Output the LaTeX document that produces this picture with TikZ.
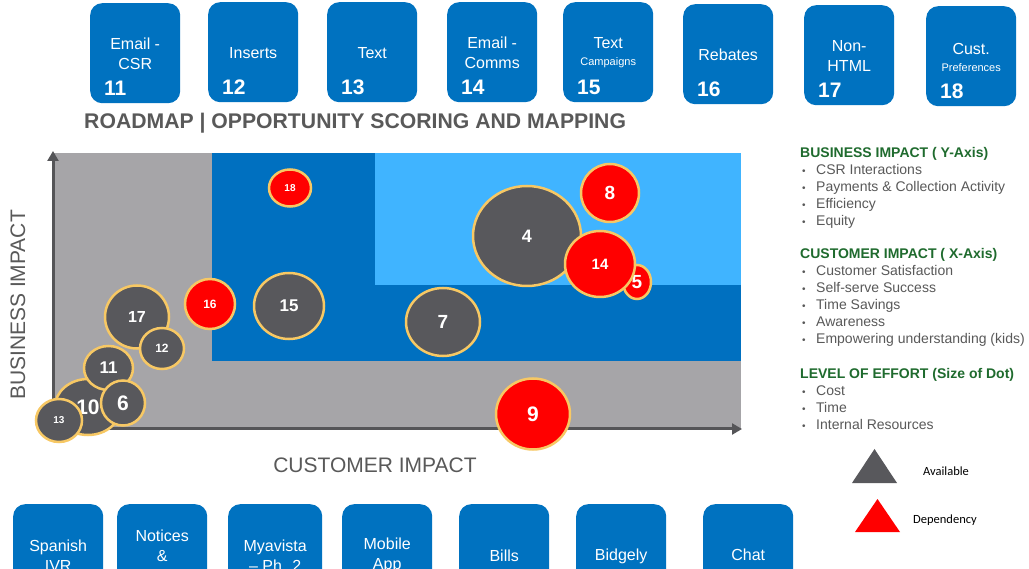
\documentclass[tikz,border=0pt]{standalone}
\usepackage{fontspec}
\setmainfont{Liberation Sans}
\newfontfamily\calibfont{Carlito}
\usetikzlibrary{arrows.meta,calc,shapes.geometric}
\definecolor{boxblue}{RGB}{0,114,192}
\definecolor{darkblue}{RGB}{0,112,192}
\definecolor{lightblue}{RGB}{64,180,255}
\definecolor{chartgray}{RGB}{166,165,168}
\definecolor{bubgray}{RGB}{88,88,92}
\definecolor{goldline}{RGB}{247,200,100}
\definecolor{txtgray}{RGB}{89,89,89}
\definecolor{axisgray}{RGB}{85,85,88}
\definecolor{hdgreen}{RGB}{31,107,46}
\newcommand\fsz[1]{\fontsize{#1}{#1}\selectfont}
\newcommand\topbox[5]{%
  \node[tbox] (#1) at (#2,#3) {};
  \node[tlab] (#1t) at ($(#1.north)+(0,51)$) {#4};
  \node[tnum] (#1n) at ($(#1.north west)+(14,85)$) {#5};}
\newcommand\botbox[5]{%
  \node[bbox,minimum width=#4] (#1) at (#2,504) {};
  \node[tlab] (#1t) at ($(#1.north)+(0,#3)$) {#5};}
\begin{document}
\begin{tikzpicture}[x=1pt,y=-1pt,
  tbox/.style={fill=boxblue, rounded corners=12pt, minimum width=90pt, minimum height=100pt, inner sep=0pt, anchor=north west},
  bbox/.style={fill=boxblue, rounded corners=12pt, minimum height=130pt, inner sep=0pt, anchor=north west},
  tlab/.style={text=white, align=center, inner sep=0pt, font=\fontsize{16}{20}\selectfont},
  tnum/.style={text=white, anchor=west, inner sep=0pt, font=\bfseries\fsz{21}},
  bub/.style={ellipse, draw=goldline, line width=2.5pt, inner sep=0pt, text=white},
  gb/.style={bub, fill=bubgray},
  rb/.style={bub, fill=red},
  axis/.style={draw=axisgray, line width=3pt, {Triangle[length=10pt,width=11pt]}-{Triangle[length=10pt,width=11pt]}},
  hd/.style={text=hdgreen, anchor=west, inner sep=0pt, text height=10pt, text depth=3pt, font=\bfseries\fsz{14}},
  item/.style={text=txtgray, anchor=west, inner sep=0pt, text height=10pt, text depth=3pt, font=\fsz{14}},
  ]
\useasboundingbox (0,0) rectangle (1029,569);
\clip (0,0) rectangle (1029,569);
\fill[white] (0,0) rectangle (1029,569);

% top boxes
\topbox{t11}{90}{3}{Email -\\CSR}{11}
\topbox{t12}{208}{2}{Inserts}{12}
\topbox{t13}{327}{2}{Text}{13}
\topbox{t14}{447}{2}{Email -\\Comms}{14}
\topbox{t15}{563}{2}{Text\\[-3pt]{\fsz{11}Campaigns}}{15}
\topbox{t16}{683}{4}{Rebates}{16}
\topbox{t17}{804}{5}{Non-\\HTML}{17}
\topbox{t18}{926}{6}{Cust.\\[-3pt]{\fsz{11}Preferences}}{18}

% title
\node[text=txtgray, anchor=west, inner sep=0pt, font=\bfseries\fsz{21.2}] (title) at (84,123) {ROADMAP | OPPORTUNITY SCORING AND MAPPING};

% chart background
\fill[chartgray] (52,153) rectangle (741,429);
\fill[darkblue] (212,153) rectangle (741,361);
\fill[lightblue] (375,153) rectangle (741,285);

% axes
\coordinate (O) at (53,429);
\coordinate (YT) at (53,151);
\coordinate (XT) at (742,429);
\draw[axis] (YT) -- (O) -- (XT);

\node[text=txtgray, rotate=90, inner sep=0pt, font=\fsz{21}] (ylab) at (18,305) {BUSINESS IMPACT};
\node[text=txtgray, inner sep=0pt, font=\fsz{21}] (xlab) at (375,465) {CUSTOMER IMPACT};

% bubbles
\node[rb, minimum width=42pt, minimum height=37pt, font=\bfseries\fsz{10}] (b18) at (290,188) {18};
\node[rb, minimum width=50pt, minimum height=50pt, font=\bfseries\fsz{12}] (b16) at (210,304) {16};
\node[gb, minimum width=70pt, minimum height=66pt, font=\bfseries\fsz{17}] (b15) at (289,306) {15};
\node[gb, minimum width=64pt, minimum height=63pt, font=\bfseries\fsz{16}] (b17) at (137,317) {17};
\node[gb, minimum width=44pt, minimum height=41pt, font=\bfseries\fsz{12}] (b12) at (162,348.5) {12};
\node[gb, minimum width=66pt, minimum height=56pt, font=\bfseries\fsz{21}] (b10) at (88,407) {10};
\node[gb, minimum width=49pt, minimum height=44pt, font=\bfseries\fsz{17}] (b11) at (108.5,368) {11};
\node[gb, minimum width=44pt, minimum height=45pt, font=\bfseries\fsz{21}] (b6) at (123,403) {6};
\node[gb, minimum width=46pt, minimum height=43pt, font=\bfseries\fsz{10}] (b13) at (59,420.5) {13};
\node[gb, minimum width=74pt, minimum height=68pt, font=\bfseries\fsz{19}] (b7) at (443,322) {7};
\node[gb, minimum width=108pt, minimum height=100pt, font=\bfseries\fsz{18}] (b4) at (527,236) {4};
\node[rb, minimum width=58pt, minimum height=58pt, font=\bfseries\fsz{19}] (b8) at (610,193) {8};
\node[rb, minimum width=28pt, minimum height=34pt, font=\bfseries\fsz{19}] (b5) at (637,282) {5};
\node[rb, minimum width=70pt, minimum height=66pt, font=\bfseries\fsz{15}] (b14) at (600,264) {14};
\node[rb, minimum width=74pt, minimum height=71pt, font=\bfseries\fsz{21}] (b9) at (533,414) {9};

% legend
\node[hd] (h1) at (800,154) {BUSINESS IMPACT ( Y-Axis)};
\foreach \t [count=\i] in {CSR Interactions, Payments \& Collection Activity, Efficiency, Equity}
  \node[item] (ia\i) at (802,{171+17*(\i-1)}) {\makebox[14pt][l]{\fsz{10}•}\t};
\node[hd] (h2) at (800,255) {CUSTOMER IMPACT ( X-Axis)};
\foreach \t [count=\i] in {Customer Satisfaction, Self-serve Success, Time Savings, Awareness, Empowering understanding (kids)}
  \node[item] (ib\i) at (802,{272+17*(\i-1)}) {\makebox[14pt][l]{\fsz{10}•}\t};
\node[hd] (h3) at (800,375) {LEVEL OF EFFORT (Size of Dot)};
\foreach \t [count=\i] in {Cost, Time, Internal Resources}
  \node[item] (ic\i) at (802,{392+17*(\i-1)}) {\makebox[14pt][l]{\fsz{10}•}\t};

% triangles legend
\fill[bubgray] (852,483) -- (874.5,449) -- (897,483) -- cycle;
\fill[red] (855,532) -- (877.5,499) -- (900,532) -- cycle;
\node[inner sep=0pt, font=\calibfont\fsz{12.5}] (avail) at (946,471) {Available};
\node[inner sep=0pt, font=\calibfont\fsz{12.5}] (dep) at (945,520) {Dependency};

% bottom boxes
\botbox{s1}{13}{51.5}{90pt}{Spanish\\IVR}
\botbox{s2}{117}{42}{90pt}{Notices\\\&}
\botbox{s3}{228}{51.5}{94pt}{Myavista\\– Ph. 2}
\botbox{s4}{342}{51.5}{90pt}{Mobile\\App}
\botbox{s5}{459}{52}{90pt}{Bills}
\botbox{s6}{576}{52}{90pt}{Bidgely}
\botbox{s7}{703}{51}{90pt}{Chat}
\end{tikzpicture}
\end{document}
